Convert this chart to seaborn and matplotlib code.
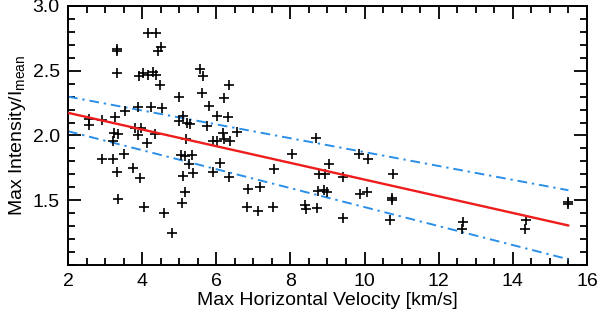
import matplotlib
matplotlib.use("Agg")
import matplotlib.pyplot as plt
from matplotlib.ticker import MultipleLocator
import pandas as pd
import seaborn as sns

# measured points (max horizontal velocity, max intensity / I_mean)
velocity = [
    2.56, 2.56, 2.92, 3.26, 3.55, 3.31, 3.32, 3.32, 3.89, 4.25, 4.54, 3.91, 4.02,
    4.16, 4.29, 4.38, 4.47, 4.17, 4.38, 4.43, 4.50, 5.00, 3.81, 3.98, 3.90, 4.13,
    4.35, 3.25, 3.35, 3.22, 5.00, 5.09, 5.20, 5.30, 5.18, 5.56, 5.65, 5.61, 5.81,
    6.03, 5.75, 6.32, 6.21, 6.35, 6.57, 6.19, 5.90, 6.03, 6.20, 6.37, 2.91, 3.21,
    3.51, 3.33, 3.76, 3.93, 3.36, 4.04, 4.58, 4.80, 5.06, 5.15, 5.34, 5.27, 5.38,
    5.09, 5.15, 5.08, 5.90, 6.09, 6.35, 6.86, 7.18, 6.82, 7.13, 7.54, 7.56, 8.05,
    8.69, 9.86, 10.10, 9.05, 8.76, 8.92, 9.41, 8.75, 8.90, 9.00, 8.40, 8.42, 8.72,
    9.42, 9.87, 10.07, 10.76, 10.73, 10.73, 10.68, 12.65, 12.64, 14.35, 14.33,
    15.50, 15.50,
]
intensity = [
    2.13, 2.08, 2.12, 2.14, 2.19, 2.67, 2.65, 2.48, 2.22, 2.22, 2.21, 2.46, 2.48,
    2.47, 2.49, 2.47, 2.39, 2.79, 2.79, 2.65, 2.68, 2.30, 2.06, 2.06, 2.00, 1.94,
    2.01, 2.02, 2.01, 1.96, 2.11, 2.15, 2.10, 2.09, 1.975, 2.51, 2.46, 2.33, 2.23,
    2.15, 2.07, 2.14, 2.29, 2.39, 2.03, 2.02, 1.96, 1.96, 1.97, 1.96, 1.82, 1.82,
    1.86, 1.72, 1.75, 1.67, 1.51, 1.45, 1.40, 1.25, 1.85, 1.84, 1.85, 1.78, 1.71,
    1.69, 1.56, 1.48, 1.72, 1.79, 1.68, 1.59, 1.60, 1.45, 1.42, 1.45, 1.74, 1.86,
    1.98, 1.86, 1.82, 1.78, 1.70, 1.70, 1.68, 1.57, 1.58, 1.56, 1.46, 1.43, 1.44,
    1.36, 1.55, 1.56, 1.70, 1.52, 1.505, 1.35, 1.33, 1.28, 1.35, 1.28, 1.49, 1.47,
]

# linear fit and its bounds, read at both ends
fit_x = [2.0, 15.5]
fit_y = [2.175, 1.305]
upper_y = [2.30, 1.577]
lower_y = [2.033, 1.044]

pts = pd.DataFrame({"v": velocity, "i": intensity})
fit = pd.DataFrame({"x": fit_x, "fit": fit_y, "up": upper_y, "lo": lower_y})

sns.set_theme(style="ticks")
plt.rcParams["font.family"] = ["Liberation Sans", "DejaVu Sans"]
plt.rcParams["mathtext.fontset"] = "custom"
plt.rcParams["mathtext.rm"] = "Liberation Sans"
plt.rcParams["text.color"] = "black"
plt.rcParams["axes.labelcolor"] = "black"

fig = plt.figure(figsize=(6.0, 3.19), dpi=100)
ax = fig.add_axes([0.1133, 0.1693, 0.865, 0.812])

blue = "#2a8fe8"
dash = (0, (5, 2.5, 1.2, 2.5))
sns.lineplot(data=fit, x="x", y="up", ax=ax, color=blue, lw=1.4, linestyle=dash)
sns.lineplot(data=fit, x="x", y="lo", ax=ax, color=blue, lw=1.4, linestyle=dash)
sns.scatterplot(data=pts, x="v", y="i", ax=ax, marker="+", color="black",
                s=60, linewidth=1.2, zorder=3)
sns.lineplot(data=fit, x="x", y="fit", ax=ax, color="#ee1c1c", lw=1.7, zorder=4)

ax.set_xlim(2, 16)
ax.set_ylim(1.0, 3.0)
ax.xaxis.set_minor_locator(MultipleLocator(0.5))
ax.yaxis.set_minor_locator(MultipleLocator(0.1))
ax.set_yticks([1.5, 2.0, 2.5, 3.0])
ax.set_yticklabels(["1.5", "2.0", "2.5", "3.0"])
ax.set_xticks([2, 4, 6, 8, 10, 12, 14, 16])
ax.set_xticklabels(["2", "4", "6", "8", "10", "12", "14", "16"])

ax.tick_params(which="both", direction="in", top=True, right=True,
               width=1.3, colors="black", labelsize=14, pad=6)
ax.tick_params(which="major", length=9.5)
ax.tick_params(which="minor", length=5)
for sp in ax.spines.values():
    sp.set_linewidth(1.4)
    sp.set_color("black")

ax.set_xlabel("Max Horizontal Velocity [km/s]", fontsize=14, labelpad=1)
ax.set_ylabel("Max Intensity/I$_{\\rm mean}$", fontsize=14, labelpad=3)

fig.savefig("out.png", dpi=100)
